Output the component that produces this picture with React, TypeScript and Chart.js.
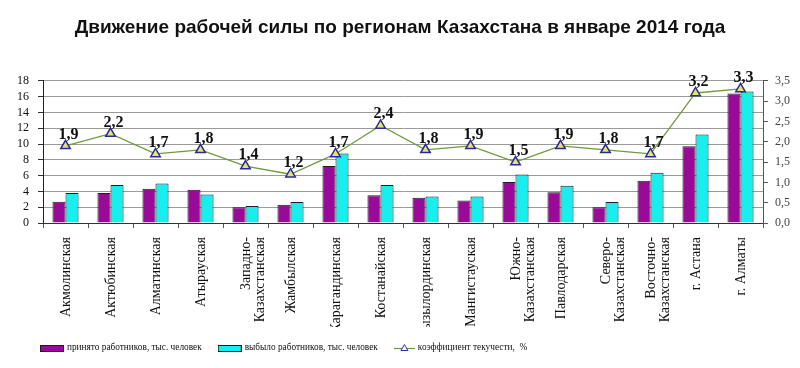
import React, { useEffect, useRef } from "react";
import { Chart, registerables } from "chart.js";

Chart.register(...registerables);

const titleText = "Движение рабочей силы по регионам Казахстана в январе 2014 года";

const categories: (string | string[])[] = [
  "Акмолинская",
  "Актюбинская",
  "Алматинская",
  "Атырауская",
  ["Западно-", "Казахстанская"],
  "Жамбылская",
  "Карагандинская",
  "Костанайская",
  "Кызылординская",
  "Мангистауская",
  ["Южно-", "Казахстанская"],
  "Павлодарская",
  ["Северо-", "Казахстанская"],
  ["Восточно-", "Казахстанская"],
  "г. Астана",
  "г. Алматы",
];

const seriesNames = [
  "принято работников, тыс. человек",
  "выбыло работников, тыс. человек",
  "коэффициент текучести,  %",
];

const hired = [2.7, 3.8, 4.35, 4.2, 2.0, 2.3, 7.2, 3.5, 3.2, 2.85, 5.2, 3.9, 2.0, 5.35, 9.7, 16.4];
const leftJob = [3.8, 4.8, 5.0, 3.6, 2.15, 2.65, 8.8, 4.8, 3.35, 3.35, 6.15, 4.7, 2.65, 6.35, 11.2, 16.65];
const turnover = [1.9, 2.2, 1.7, 1.8, 1.4, 1.2, 1.7, 2.4, 1.8, 1.9, 1.5, 1.9, 1.8, 1.7, 3.2, 3.3];

const leftAxis = { min: 0, max: 18, step: 2 };
const rightAxis = { min: 0, max: 3.5, step: 0.5 };

const colors = {
  hired: "#990a99",
  left: "#18eeee",
  line: "#6f9a3c",
  pointFill: "#e4e46c",
  pointBorder: "#2a2a9c",
  barBorder: "#1e1e1e",
};

const serif = "'Liberation Serif', 'Times New Roman', serif";

const fmt = (v: number) => v.toFixed(1).replace(".", ",");

function makeRectIcon(fill: string, w: number, h: number) {
  const c = document.createElement("canvas");
  c.width = w;
  c.height = h;
  const ctx = c.getContext("2d")!;
  ctx.fillStyle = fill;
  ctx.fillRect(0, 0, w, h);
  ctx.strokeStyle = colors.barBorder;
  ctx.lineWidth = 1;
  ctx.strokeRect(0.5, 0.5, w - 1, h - 1);
  return c;
}

function makeLineIcon(w: number, h: number) {
  const c = document.createElement("canvas");
  c.width = w;
  c.height = h;
  const ctx = c.getContext("2d")!;
  ctx.strokeStyle = colors.line;
  ctx.lineWidth = 1.2;
  ctx.beginPath();
  ctx.moveTo(0, h / 2 + 0.5);
  ctx.lineTo(w, h / 2 + 0.5);
  ctx.stroke();
  const cx = w / 2;
  const cy = h / 2 + 0.5;
  const r = 4;
  ctx.beginPath();
  ctx.moveTo(cx, cy - r);
  ctx.lineTo(cx + r * 0.87, cy + r * 0.5);
  ctx.lineTo(cx - r * 0.87, cy + r * 0.5);
  ctx.closePath();
  ctx.fillStyle = "#ffffff";
  ctx.fill();
  ctx.strokeStyle = colors.pointBorder;
  ctx.lineWidth = 1;
  ctx.stroke();
  return c;
}

const valueLabels = {
  id: "valueLabels",
  afterDatasetsDraw(chart: any) {
    const meta = chart.getDatasetMeta(2);
    const data = chart.data.datasets[2].data as number[];
    const ctx = chart.ctx;
    ctx.save();
    ctx.font = "bold 16px " + serif;
    ctx.fillStyle = "#111";
    ctx.textAlign = "center";
    ctx.textBaseline = "alphabetic";
    meta.data.forEach((pt: any, i: number) => {
      ctx.fillText(fmt(data[i]), pt.x + 3, pt.y - 7);
    });
    ctx.restore();
  },
};

export default function App() {
  const ref = useRef<HTMLCanvasElement | null>(null);

  useEffect(() => {
    if (!ref.current) return;
    const icons = [
      makeRectIcon(colors.hired, 24, 7),
      makeRectIcon(colors.left, 24, 7),
      makeLineIcon(21, 10),
    ];

    const manualLegend = {
      id: "manualLegend",
      afterDraw(chart: any) {
        const ctx = chart.ctx;
        const area = chart.chartArea;
        const y = area.bottom + 125;
        let x = area.left - 3;
        ctx.save();
        ctx.font = "9.3px " + serif;
        ctx.fillStyle = "#111";
        ctx.textAlign = "left";
        ctx.textBaseline = "middle";
        [0, 1, 2].forEach((k) => {
          const icon = icons[k];
          ctx.drawImage(icon, x, Math.round(y - icon.height / 2));
          x += icon.width + 3;
          const label = chart.data.datasets[k].label as string;
          ctx.fillText(label, x, y);
          x += ctx.measureText(label).width + 16;
        });
        ctx.restore();
      },
    };

    const chart = new Chart(ref.current, {
      type: "bar",
      data: {
        labels: categories as any,
        datasets: [
          {
            type: "bar",
            label: seriesNames[0],
            data: hired,
            yAxisID: "y",
            backgroundColor: colors.hired,
            borderColor: colors.barBorder,
            borderWidth: 1,
            barPercentage: 1,
            categoryPercentage: 0.58,
            order: 1,
          },
          {
            type: "bar",
            label: seriesNames[1],
            data: leftJob,
            yAxisID: "y",
            backgroundColor: colors.left,
            borderColor: colors.barBorder,
            borderWidth: 1,
            barPercentage: 1,
            categoryPercentage: 0.58,
            order: 2,
          },
          {
            type: "line",
            label: seriesNames[2],
            data: turnover,
            yAxisID: "y2",
            borderColor: colors.line,
            borderWidth: 1.3,
            pointStyle: "triangle",
            pointRadius: 5.5,
            pointBackgroundColor: colors.pointFill,
            pointBorderColor: colors.pointBorder,
            pointBorderWidth: 1.5,
            tension: 0,
            order: -1,
          },
        ] as any,
      },
      options: {
        responsive: false,
        animation: false,
        events: [],
        layout: { padding: { top: 0, left: 0, right: 0, bottom: 41 } },
        plugins: {
          tooltip: { enabled: false },
          legend: { display: false },
          title: {
            display: true,
            text: titleText,
            color: "#111",
            font: { family: "'Liberation Sans', Arial, sans-serif", size: 19, weight: "bold" },
            padding: { top: 16, bottom: 42 },
          },
        },
        scales: {
          x: {
            type: "category",
            offset: true,
            grid: {
              display: true,
              offset: true,
              drawOnChartArea: false,
              drawTicks: true,
              tickLength: 5,
              tickColor: "#555",
            },
            border: { display: true, color: "#333", width: 1 },
            ticks: {
              autoSkip: false,
              minRotation: 90,
              maxRotation: 90,
              padding: 9,
              color: "#111",
              labelOffset: 1,
              font: { family: serif, size: 14, lineHeight: 1.0 },
            },
            afterFit: (s: any) => {
              s.height = 104;
            },
          },
          y: {
            type: "linear",
            position: "left",
            min: leftAxis.min,
            max: leftAxis.max,
            ticks: {
              stepSize: leftAxis.step,
              autoSkip: false,
              color: "#111",
              padding: 9,
              font: { family: serif, size: 12 },
            },
            grid: {
              color: "#9a9a9a",
              lineWidth: 1,
              drawTicks: true,
              tickLength: 5,
              tickColor: "#333",
            },
            border: { display: true, color: "#222", width: 1 },
            afterFit: (s: any) => {
              s.width = 43;
            },
          },
          y2: {
            type: "linear",
            position: "right",
            min: rightAxis.min,
            max: rightAxis.max,
            ticks: {
              stepSize: rightAxis.step,
              autoSkip: false,
              color: "#444",
              padding: 7,
              font: { family: serif, size: 12 },
              callback: (v: any) => fmt(Number(v)),
            },
            grid: {
              drawOnChartArea: false,
              drawTicks: true,
              tickLength: 5,
              tickColor: "#555",
            },
            border: { display: true, color: "#555", width: 1 },
            afterFit: (s: any) => {
              s.width = 37;
            },
          },
        },
      } as any,
      plugins: [valueLabels, manualLegend],
    });
    return () => chart.destroy();
  }, []);

  return (
    <div
      style={{
        position: "absolute",
        left: 0,
        top: 0,
        width: 800,
        height: 368,
        background: "#fff",
      }}
    >
      <canvas ref={ref} width={800} height={368} style={{ width: 800, height: 368 }} />
    </div>
  );
}
